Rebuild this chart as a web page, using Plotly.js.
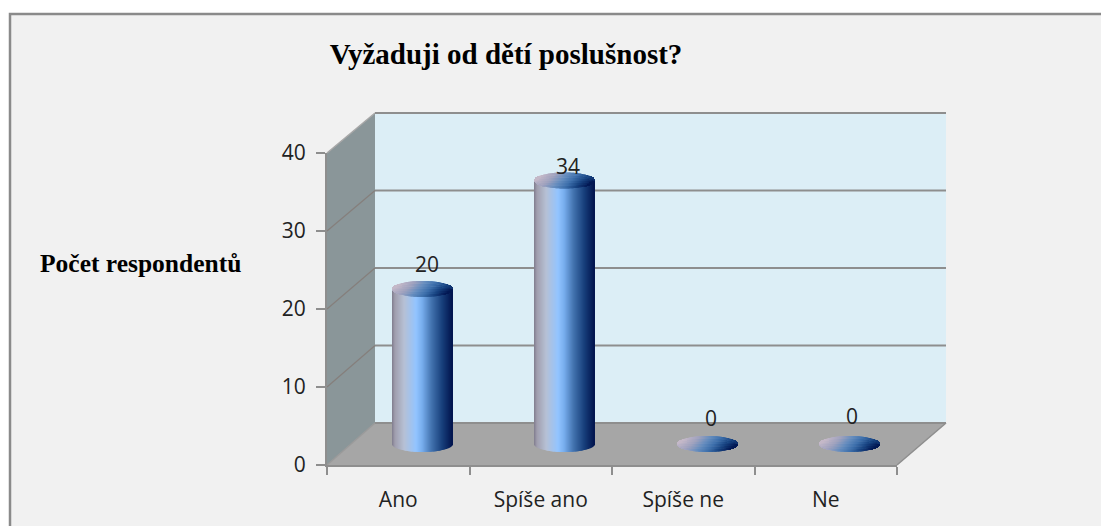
<!DOCTYPE html>
<html>
<head>
<meta charset="utf-8">
<script src="https://cdn.plot.ly/plotly-3.0.1.min.js"></script>
<style>html,body{margin:0;padding:0;background:#fff}#c{width:1101px;height:526px}</style>
</head>
<body>
<div id="c"></div>
<script>
// ---- data ----
const categories = ['Ano', 'Spíše ano', 'Spíše ne', 'Ne'];
const values = [20, 34, 0, 0];
const yTicks = [0, 10, 20, 30, 40];
const labelDx = [5, 3, 4, 2];
const labelDy = [-25, -15, -26, -28];
const titleText = 'Vyžaduji od dětí poslušnost?';
const yTitleText = 'Počet respondentů';

// ---- geometry of the pseudo-3D box (pixels) ----
const W = 1101, H = 526;
const fx0 = 327, fx1 = 897, fy0 = 465, fy40 = 153;   // front plane
const bx0 = 375, bx1 = 946, by0 = 423, by40 = 113;   // back plane
const cylX0 = 351, cylX1 = 921, cylBase = 444, pxPerUnit = 7.75;
const capRy = 8;
const px = x => x / W, py = y => 1 - y / H;
const poly = pts => 'M' + pts.map(p => px(p[0]) + ',' + py(p[1])).join('L') + 'Z';

// ---- gradient helpers ----
const bodyStops = [[0,[128,124,142]],[0.05,[160,158,174]],[0.2,[182,192,212]],[0.4,[146,196,255]],[0.5,[120,174,238]],[0.66,[66,114,174]],[0.84,[22,62,122]],[1,[2,20,78]]];
const capStops = [[0,[196,184,200]],[0.25,[160,162,190]],[0.45,[100,140,190]],[0.62,[62,112,172]],[0.8,[24,68,130]],[1,[2,24,84]]];
function grad(stops, t) {
  t = Math.max(0, Math.min(1, t));
  for (let i = 1; i < stops.length; i++) {
    if (t <= stops[i][0]) {
      const a = stops[i-1], b = stops[i], f = (t - a[0]) / (b[0] - a[0]);
      const c = a[1].map((v, k) => Math.round(v + (b[1][k] - v) * f));
      return 'rgb(' + c.join(',') + ')';
    }
  }
  return 'rgb(' + stops[stops.length-1][1].join(',') + ')';
}

// ---- cylinders are built from thin bars through the axis scale ----
const catPx = (cylX1 - cylX0) / categories.length;
const COLS = 60, ROWS = 6, colW = 1 / catPx;
const body = {x: [], y: [], base: [], width: [], offset: [], color: []};
const cap = {x: [], y: [], base: [], width: [], offset: [], color: []};
categories.forEach((cat, idx) => {
  const v = values[idx];
  for (let c = 0; c < COLS; c++) {
    const t = (c + 0.5) / COLS, s = 2 * t - 1;
    const h = capRy * Math.sqrt(1 - s * s) / pxPerUnit;
    const off = (c - COLS / 2) * colW;
    if (v > 0) {
      body.x.push(cat); body.base.push(-h); body.y.push(v + h);
      body.width.push(colW * 1.05); body.offset.push(off);
      body.color.push(grad(bodyStops, t));
    }
    for (let r = 0; r < ROWS; r++) {
      const seg = 2 * h / ROWS, vv = 1 - 2 * (r + 0.5) / ROWS; // vv: +1 bottom
      cap.x.push(cat); cap.base.push(v - h + r * seg); cap.y.push(seg * 1.02);
      cap.width.push(colW * 1.05); cap.offset.push(off);
      cap.color.push(grad(capStops, t + 0.13 * vv));
    }
  }
});
const barTrace = (d) => ({
  type: 'bar', x: d.x, y: d.y, base: d.base, width: d.width, offset: d.offset,
  xaxis: 'x2', yaxis: 'y2', marker: {color: d.color, line: {width: 0}},
  hoverinfo: 'skip', showlegend: false, textposition: 'none'
});

const data = [
  {type: 'scatter', mode: 'markers', x: categories, y: values, marker: {opacity: 0},
   hoverinfo: 'skip', showlegend: false},
  barTrace(body),
  barTrace(cap)
];

// ---- decoration: frame, walls, floor, gridlines ----
const lineGrey = '#8e8e8e';
const shapes = [
  {type: 'rect', xref: 'paper', yref: 'paper', x0: px(10), x1: px(1130), y0: py(14), y1: py(560),
   fillcolor: '#f1f1f1', line: {color: '#8a8a8a', width: 2.5}, layer: 'below'},
  {type: 'path', xref: 'paper', yref: 'paper', path: poly([[bx0,by40],[bx1,by40],[bx1,by0],[bx0,by0]]),
   fillcolor: '#dceef6', line: {width: 0}, layer: 'below'},
  {type: 'path', xref: 'paper', yref: 'paper', path: poly([[fx0,fy40],[bx0,by40],[bx0,by0],[fx0,fy0]]),
   fillcolor: '#8a9699', line: {width: 0}, layer: 'below'},
  {type: 'path', xref: 'paper', yref: 'paper', path: poly([[fx0,fy0],[bx0,by0],[bx1,by0],[fx1,fy0]]),
   fillcolor: '#a6a6a6', line: {width: 0}, layer: 'below'},
  {type: 'path', xref: 'paper', yref: 'paper', path: 'M' + px(bx0) + ',' + py(by40) + 'L' + px(fx0) + ',' + py(fy40),
   line: {color: '#a8a8a8', width: 1.5}, layer: 'below'},
  {type: 'path', xref: 'paper', yref: 'paper', path: 'M' + px(bx1) + ',' + py(by0) + 'L' + px(fx1) + ',' + py(fy0),
   line: {color: lineGrey, width: 1.5}, layer: 'below'},
  {type: 'path', xref: 'paper', yref: 'paper', path: 'M' + px(bx0) + ',' + py(by0) + 'L' + px(fx0) + ',' + py(fy0),
   line: {color: '#9a9a9a', width: 1.5}, layer: 'below'}
];
yTicks.forEach(t => {
  const yb = by0 + (by40 - by0) * t / 40, yf = fy0 + (fy40 - fy0) * t / 40;
  shapes.push({type: 'line', xref: 'paper', yref: 'paper', x0: px(bx0), x1: px(bx1), y0: py(yb), y1: py(yb),
    line: {color: lineGrey, width: 2}, layer: 'below'});
  if (t > 0 && t < 40) {
    shapes.push({type: 'line', xref: 'paper', yref: 'paper', x0: px(fx0), x1: px(bx0), y0: py(yf), y1: py(yb),
      line: {color: '#857f7c', width: 1.2}, layer: 'below'});
  }
});

const tickFont = {family: '"Open Sans", sans-serif', size: 21, color: '#222222'};
const annotations = categories.map((c, i) => ({
  xref: 'x2', yref: 'y2', x: c, y: values[i], text: String(values[i]), showarrow: false,
  xshift: labelDx[i], yshift: -labelDy[i], xanchor: 'center', yanchor: 'middle', font: tickFont
}));
annotations.push({
  xref: 'paper', yref: 'paper', x: px(38), y: py(263), xanchor: 'left', yanchor: 'middle', showarrow: false,
  text: '<b>' + yTitleText + '</b>',
  font: {family: '"Liberation Serif", serif', size: 25.5, color: '#000'}
});

const layout = {
  width: W, height: H, margin: {l: 0, r: 0, t: 0, b: 0, pad: 0},
  paper_bgcolor: '#ffffff', plot_bgcolor: 'rgba(0,0,0,0)',
  showlegend: false, hovermode: false, barmode: 'overlay',
  title: {text: '<b>' + titleText + '</b>', xref: 'paper', x: px(506), xanchor: 'center',
    yref: 'paper', y: py(54), yanchor: 'middle',
    font: {family: '"Liberation Serif", serif', size: 29, color: '#000'}},
  xaxis: {domain: [px(fx0), px(fx1)], type: 'category', categoryorder: 'array', categoryarray: categories,
    range: [-0.5, categories.length - 0.5], fixedrange: true,
    showline: true, linecolor: lineGrey, linewidth: 2, showgrid: false, zeroline: false,
    ticks: 'outside', tickson: 'boundaries', ticklen: 8, tickwidth: 2, tickcolor: lineGrey,
    ticklabelstandoff: 15, tickfont: tickFont},
  yaxis: {domain: [py(fy0), py(fy40)], range: [0, 40], fixedrange: true,
    tickvals: yTicks, ticktext: yTicks.map(String),
    showline: true, linecolor: lineGrey, linewidth: 2, showgrid: false, zeroline: false,
    ticks: 'outside', ticklen: 9, tickwidth: 2, tickcolor: lineGrey,
    ticklabelstandoff: 6, tickfont: tickFont},
  xaxis2: {domain: [px(cylX0), px(cylX1)], type: 'category', categoryorder: 'array', categoryarray: categories,
    range: [-0.5, categories.length - 0.5], visible: false, fixedrange: true, anchor: 'y2'},
  yaxis2: {domain: [py(480), py(100)], range: [(cylBase - 480) / pxPerUnit, (cylBase - 100) / pxPerUnit],
    visible: false, fixedrange: true, anchor: 'x2'},
  shapes: shapes, annotations: annotations
};
Plotly.newPlot('c', data, layout, {displayModeBar: false, responsive: false});
</script>
</body>
</html>
